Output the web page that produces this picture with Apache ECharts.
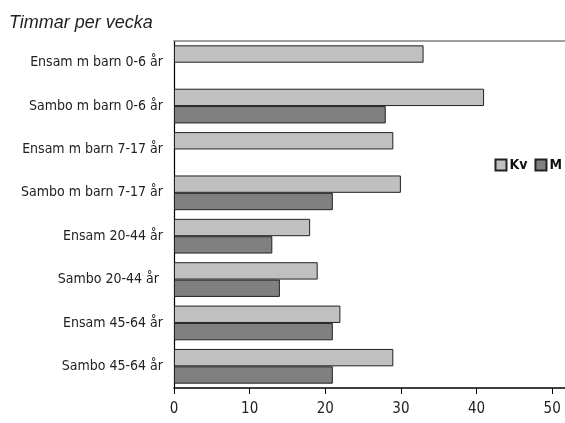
<!DOCTYPE html>
<html><head><meta charset="utf-8">
<script src="https://cdn.jsdelivr.net/npm/echarts@6/dist/echarts.min.js"></script>
<style>html,body{margin:0;padding:0;background:#fff}#c{width:565px;height:423px}</style>
</head><body><div id="c"></div>
<script>
const categories = ["Ensam m barn 0-6 år","Sambo m barn 0-6 år","Ensam m barn 7-17 år","Sambo m barn 7-17 år","Ensam 20-44 år","Sambo 20-44 år ","Ensam 45-64 år","Sambo 45-64 år"];
const kv = [33, 41, 29, 30, 18, 19, 22, 29];
const m = [null, 28, null, 21, 13, 14, 21, 21];
const xTicks = [0, 10, 20, 30, 40, 50];
const FONT = '"Liberation Sans Narrow","DejaVu Sans Condensed",sans-serif';
const chart = echarts.init(document.getElementById('c'));
chart.setOption({
  animation: false,
  title: {text: 'Timmar per vecka', left: 4, top: 9, textStyle: {fontFamily: 'Liberation Sans, Arial, sans-serif', fontStyle: 'italic', fontWeight: 'normal', fontSize: 18, color: '#222'}},
  legend: {data: ['Kv','M'], orient: 'horizontal', right: 3, top: 158, padding: 0, icon: 'rect', itemWidth: 11, itemHeight: 11, itemGap: 7,
    textStyle: {fontFamily: FONT, fontWeight: 'bold', fontSize: 14, color: '#111', padding: [0,0,0,-2]}},
  grid: {left: 174, right: 0, top: 41, bottom: 35, containLabel: false},
  xAxis: [{type: 'value', min: 0, max: 51.7, position: 'bottom',
    axisLine: {show: true, lineStyle: {color: '#000', width: 1.5}},
    axisTick: {show: true, length: 6, customValues: xTicks, lineStyle: {color: '#000'}},
    axisLabel: {customValues: xTicks, margin: 14, fontFamily: FONT, fontSize: 15, color: '#222'},
    splitLine: {show: false}},
    {type: 'value', min: 0, max: 51.7, position: 'top',
    axisLine: {show: true, lineStyle: {color: '#808080', width: 1.5}},
    axisTick: {show: false}, axisLabel: {show: false}, splitLine: {show: false}}],
  yAxis: {type: 'category', data: categories, inverse: true,
    axisLine: {show: true, lineStyle: {color: '#000', width: 1.2}},
    axisTick: {show: false},
    axisLabel: {margin: 11, fontFamily: FONT, fontSize: 14, color: '#222'}},
  series: [
    {name: 'Kv', type: 'bar', data: kv, barGap: '0%', barCategoryGap: '20%',
      itemStyle: {color: '#c0c0c0', borderColor: '#222', borderWidth: 1}},
    {name: 'M', type: 'bar', data: m, barGap: '0%', barCategoryGap: '20%',
      itemStyle: {color: '#808080', borderColor: '#222', borderWidth: 1}}
  ]
});
</script></body></html>
